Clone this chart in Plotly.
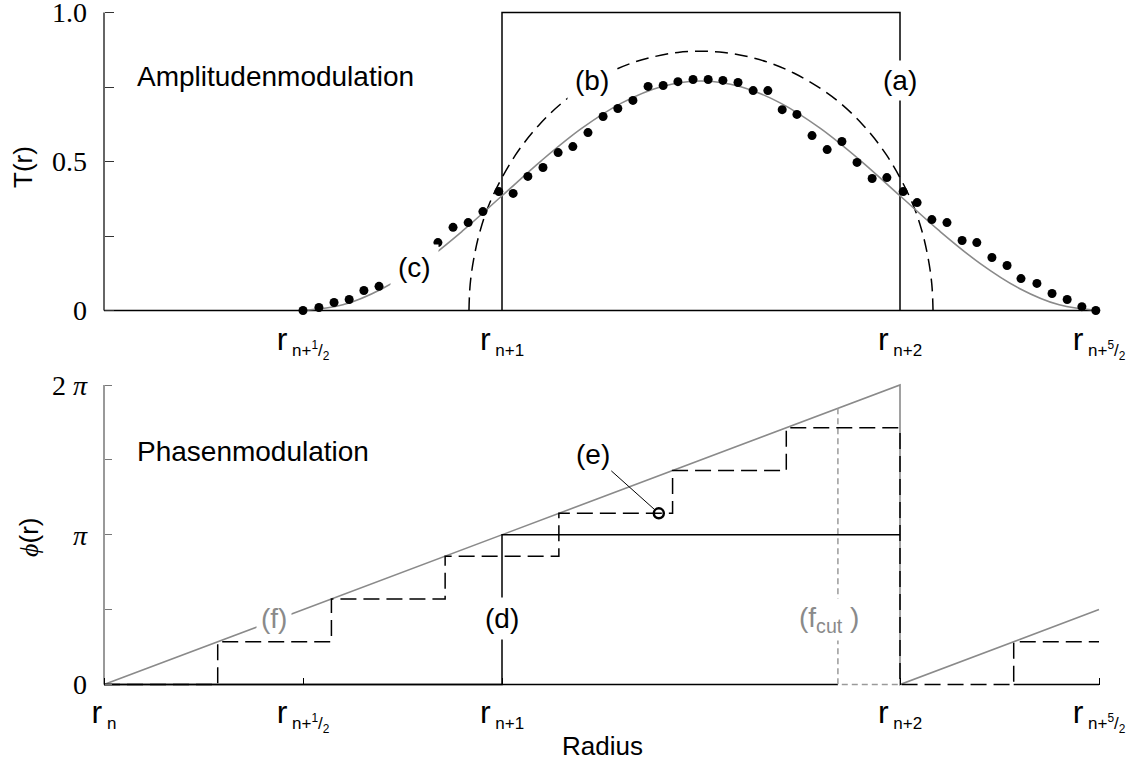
import plotly.graph_objects as go

# ---------------- data ----------------
# top panel: amplitude modulation T(r); x in units of ring index (0 = r_n ... 2.5 = r_{n+5/2})
rect_x = [1, 1, 2, 2]
rect_T = [0, 1, 1, 0]

semi_x = [0.917, 0.920, 0.929, 0.946, 0.975, 1.034, 1.092, 1.150, 1.209, 1.267, 1.325, 1.383, 1.442, 1.5,
          1.558, 1.617, 1.675, 1.733, 1.791, 1.850, 1.908, 1.966, 2.025, 2.054, 2.071, 2.080, 2.083]
semi_T = [0, 0.087, 0.173, 0.272, 0.379, 0.522, 0.621, 0.696, 0.753, 0.797, 0.830, 0.852, 0.866, 0.870,
          0.866, 0.852, 0.830, 0.797, 0.753, 0.696, 0.621, 0.522, 0.379, 0.272, 0.173, 0.087, 0]

smooth_x = [0.5, 0.6, 0.7, 0.8, 0.9, 1.0, 1.1, 1.2, 1.3, 1.4, 1.5, 1.6, 1.7, 1.8, 1.9, 2.0, 2.1, 2.2, 2.3, 2.4, 2.5]
smooth_T = [0, 0.019, 0.074, 0.159, 0.266, 0.385, 0.504, 0.611, 0.696, 0.751, 0.770, 0.751, 0.696, 0.611,
            0.504, 0.385, 0.266, 0.159, 0.074, 0.019, 0]

dots_x = [0.500, 0.540, 0.578, 0.616, 0.653, 0.691, 0.839, 0.877, 0.915, 0.952,
          0.992, 1.028, 1.065, 1.103, 1.141, 1.178, 1.216, 1.254, 1.291, 1.329,
          1.367, 1.405, 1.442, 1.480, 1.518, 1.555, 1.593, 1.631, 1.668, 1.704,
          1.741, 1.779, 1.817, 1.854, 1.892, 1.930, 1.967, 2.008, 2.043, 2.080,
          2.118, 2.156, 2.193, 2.231, 2.269, 2.304, 2.344, 2.382, 2.420, 2.457, 2.492]
dots_T = [0, 0.010, 0.027, 0.037, 0.067, 0.081, 0.228, 0.279, 0.295, 0.332,
          0.399, 0.393, 0.450, 0.480, 0.530, 0.550, 0.597, 0.651, 0.678, 0.705,
          0.752, 0.755, 0.768, 0.775, 0.775, 0.772, 0.765, 0.738, 0.738, 0.674,
          0.658, 0.587, 0.540, 0.567, 0.497, 0.443, 0.446, 0.399, 0.362, 0.305,
          0.295, 0.235, 0.228, 0.178, 0.151, 0.107, 0.091, 0.057, 0.037, 0.013, 0]

# bottom panel: phase modulation phi(r) in units of pi
ramp_x = [0, 2, 2, 2.5]
ramp_phi = [0, 2, 0, 0.5]
binary_x = [0, 1, 1, 2]
binary_phi = [0, 0, 1, 1]
stair_x = [0, 0.2857, 0.5714, 0.8571, 1.1429, 1.4286, 1.7143, 2.0, 2.2857, 2.5]
stair_phi = [0, 0.2857, 0.5714, 0.8571, 1.1429, 1.4286, 1.7143, 0, 0.2857, 0.2857]
fcut_x = [1.844, 1.844, 2.0]
fcut_phi = [1.844, 0, 0]
e_x = [1.394]
e_phi = [1.143]

top_ticks = [0.5, 1, 2, 2.5]
bot_ticks = [0, 0.5, 1, 2, 2.5]
sub_n = {0: "n", 0.5: "n+<sup>1</sup>/<sub>2</sub>", 1: "n+1", 2: "n+2", 2.5: "n+<sup>5</sup>/<sub>2</sub>"}

# ---------------- layout geometry ----------------
W, H = 1133, 767
X0PX, XUNIT = 104, 398.0          # pixel of x=0, pixels per unit
T0PX, TUNIT = 310.5, 298.0        # top panel
P0PX, PUNIT = 684.5, 149.75       # bottom panel (per pi)
XR = [-0.02, 2.52]
TR = [-0.03, 1.03]
PR = [-0.05, 2.05]

xdom = [(X0PX + XR[0] * XUNIT) / W, (X0PX + XR[1] * XUNIT) / W]
tdom = [(H - (T0PX - TR[0] * TUNIT)) / H, (H - (T0PX - TR[1] * TUNIT)) / H]
pdom = [(H - (P0PX - PR[0] * PUNIT)) / H, (H - (P0PX - PR[1] * PUNIT)) / H]

SANS = "Liberation Sans, Arial, sans-serif"
SERIF = "Liberation Serif, Times New Roman, serif"
GRAY = "#8a8a8a"


def rlab(v):
    return "r<sub><span style='font-size:17px'>\u00a0" + sub_n[v] + "</span></sub>"


fig = go.Figure()

# top panel traces
fig.add_trace(go.Scatter(x=rect_x, y=rect_T, mode="lines", line=dict(color="black", width=1.5),
                         xaxis="x", yaxis="y", hoverinfo="skip"))
fig.add_trace(go.Scatter(x=semi_x, y=semi_T, mode="lines", line=dict(color="black", width=1.5, dash="13px,7px", shape="spline"),
                         xaxis="x", yaxis="y", hoverinfo="skip"))
fig.add_trace(go.Scatter(x=smooth_x, y=smooth_T, mode="lines", line=dict(color=GRAY, width=1.6, shape="spline"),
                         xaxis="x", yaxis="y", hoverinfo="skip"))
fig.add_trace(go.Scatter(x=dots_x, y=dots_T, mode="markers", marker=dict(color="black", size=9),
                         cliponaxis=False, xaxis="x", yaxis="y", hoverinfo="skip"))

# bottom panel traces
fig.add_trace(go.Scatter(x=ramp_x, y=ramp_phi, mode="lines", line=dict(color=GRAY, width=1.6),
                         xaxis="x2", yaxis="y2", hoverinfo="skip"))
fig.add_trace(go.Scatter(x=fcut_x, y=fcut_phi, mode="lines", line=dict(color="#9a9a9a", width=1.5, dash="6px,4px"),
                         xaxis="x2", yaxis="y2", hoverinfo="skip"))
fig.add_trace(go.Scatter(x=binary_x, y=binary_phi, mode="lines", line=dict(color="black", width=1.5),
                         xaxis="x2", yaxis="y2", hoverinfo="skip"))
fig.add_trace(go.Scatter(x=stair_x, y=stair_phi, mode="lines", line=dict(color="black", width=1.5, dash="16px,7px", shape="hv"),
                         xaxis="x2", yaxis="y2", hoverinfo="skip"))
fig.add_trace(go.Scatter(x=e_x, y=e_phi, mode="markers",
                         marker=dict(symbol="circle-open", size=10, color="black", line=dict(width=2.5)),
                         cliponaxis=False, xaxis="x2", yaxis="y2", hoverinfo="skip"))

# axis lines drawn as shapes so they stop exactly at the data limits
shapes = [
    dict(type="line", xref="x", yref="y", x0=0, x1=2.5, y0=0, y1=0, line=dict(color="black", width=1.5), layer="below"),
    dict(type="line", xref="x", yref="y", x0=0, x1=0, y0=0, y1=1, line=dict(color="#333333", width=1.5), layer="below"),
    dict(type="line", xref="x2", yref="y2", x0=0, x1=fcut_x[0], y0=0, y1=0, line=dict(color="black", width=1.5), layer="below"),
    dict(type="line", xref="x2", yref="y2", x0=stair_x[-2], x1=2.5, y0=0, y1=0, line=dict(color="black", width=1.5), layer="below"),
    dict(type="line", xref="x2", yref="y2", x0=0, x1=0, y0=0, y1=2, line=dict(color="#777777", width=1.5), layer="below"),
]

axis_common = dict(showgrid=False, zeroline=False, showline=False, automargin=False, ticklabeloverflow="allow")

fig.update_layout(
    template="none",
    width=W, height=H, margin=dict(l=0, r=0, t=0, b=0, pad=0), autosize=False,
    paper_bgcolor="white", plot_bgcolor="white", showlegend=False,
    shapes=shapes,
    xaxis=dict(domain=xdom, range=XR, anchor="free", position=(H - T0PX) / H,
               tickvals=top_ticks, ticktext=[rlab(v) for v in top_ticks], ticks="",
               tickfont=dict(family=SANS, size=32, color="black"), ticklabelstandoff=6, **axis_common),
    yaxis=dict(domain=tdom, range=TR, anchor="free", position=X0PX / W,
               tickvals=[0, 0.25, 0.5, 0.75, 1.0], ticktext=["0", "", "0.5", "", "1.0"],
               ticks="inside", ticklen=9, tickwidth=1.2, tickcolor="#333333",
               tickfont=dict(family=SERIF, size=28, color="black"), ticklabelstandoff=17, **axis_common),
    xaxis2=dict(domain=xdom, range=XR, anchor="free", position=(H - P0PX) / H,
                tickvals=bot_ticks, ticktext=[rlab(v) for v in bot_ticks], ticks="inside", ticklen=7,
                tickwidth=1.2, tickcolor="black",
                tickfont=dict(family=SANS, size=32, color="black"), ticklabelstandoff=5, **axis_common),
    yaxis2=dict(domain=pdom, range=PR, anchor="free", position=X0PX / W,
                tickvals=[0, 0.5, 1, 1.5, 2], ticktext=["0", "", "<i>π</i>", "", "2 <i>π</i>"],
                ticks="inside", ticklen=7, tickwidth=1.2, tickcolor="#777777",
                tickfont=dict(family=SERIF, size=28, color="black"), ticklabelstandoff=17, **axis_common),
)


def label(text, x, y, xref, yref, color="black", pad=5):
    fig.add_annotation(text=text, x=x, y=y, xref=xref, yref=yref, showarrow=False,
                       xanchor="center", yanchor="middle",
                       font=dict(family=SANS, size=28, color=color), bgcolor="white", borderpad=pad)


label("(a)", 2.0, 0.773, "x", "y", pad=4)
label("(b)", 1.225, 0.773, "x", "y", pad=7)
label("(c)", 0.779, 0.144, "x", "y", pad=7)
label("(d)", 1.0, 0.444, "x2", "y2", pad=5)
label("(f)", 0.427, 0.444, "x2", "y2", color=GRAY, pad=4)
label("(f<sub>cut</sub> )", 1.822, 0.431, "x2", "y2", color=GRAY, pad=3)

fig.add_annotation(text="(e)", x=e_x[0], y=e_phi[0], xref="x2", yref="y2", showarrow=True,
                   ax=-66, ay=-59, arrowhead=0, arrowwidth=1, arrowcolor="black", standoff=5,
                   font=dict(family=SANS, size=28, color="black"), bgcolor="white", borderpad=1)


def text_at(text, xp, yp, size, angle=0, anchor="center"):
    fig.add_annotation(text=text, x=xp / W, y=(H - yp) / H, xref="paper", yref="paper",
                       xanchor=anchor, yanchor="middle", textangle=angle, showarrow=False,
                       font=dict(family=SANS, size=size, color="black"))


# panel titles and axis titles
text_at("Amplitudenmodulation", 135, 76, 28, anchor="left")
text_at("Phasenmodulation", 135, 451, 28, anchor="left")
text_at("T(r)", 23, 167, 26, angle=-90)
text_at("<span style='font-family:Liberation Serif'><i>ϕ</i></span>(r)", 29, 538, 26, angle=-90)
text_at("Radius", 602, 746, 26)

fig.write_html("out.html")
